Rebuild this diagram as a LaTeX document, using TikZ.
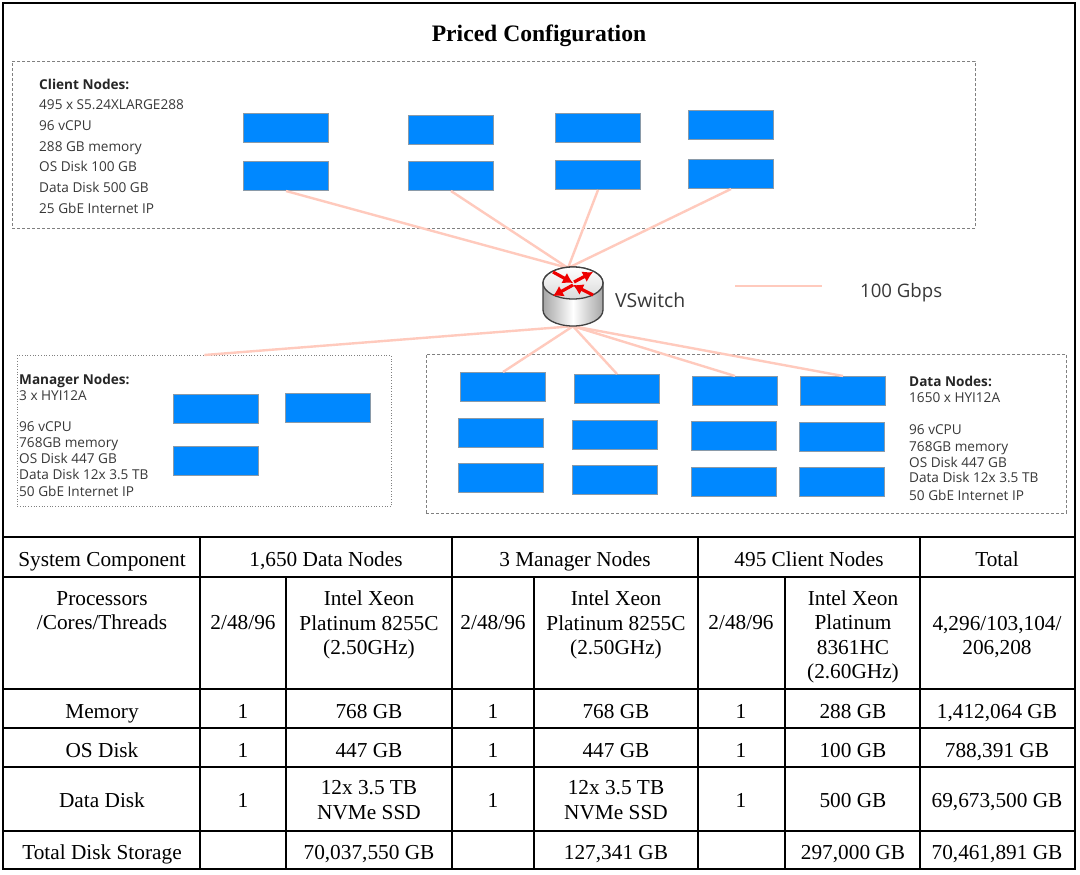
\documentclass[tikz,border=0pt]{standalone}
\usepackage{fontspec}
\setmainfont{Liberation Serif}
\newfontfamily\uifont{Open Sans}
\usetikzlibrary{arrows.meta}
\definecolor{nodeblue}{HTML}{0088FF}
\definecolor{nodeedge}{HTML}{8A9AA8}
\definecolor{linkpink}{HTML}{FFCABD}
\definecolor{uitext}{HTML}{383838}
\definecolor{dashgray}{HTML}{808080}
\definecolor{arrowred}{HTML}{EE0000}
\tikzset{
  srv/.style={draw=nodeedge,line width=1pt,fill=nodeblue,minimum width=85pt,minimum height=29pt,inner sep=0pt,anchor=north west},
  zone/.style={draw=dashgray,line width=.7pt,densely dashed,inner sep=0pt,anchor=north west},
  link/.style={draw=linkpink,line width=2.4pt},
  info/.style={anchor=base west,inner sep=0pt,font=\uifont\fontsize{13.6}{15}\selectfont,text=uitext},
  infohead/.style={info,font=\uifont\bfseries\fontsize{13.6}{15}\selectfont,text=black!85},
  cell/.style={anchor=base,inner sep=0pt,font=\fontsize{21.3}{24.5}\selectfont,text=black},
  multi/.style={anchor=center,inner sep=0pt,align=center,font=\fontsize{21.3}{24.5}\selectfont,text=black},
  rule/.style={line width=2pt,draw=black},
  redarrow/.style={draw=arrowred,line width=3.2pt,-{Latex[length=10pt,width=12pt]}}
}
\begin{document}
\begin{tikzpicture}[x=1pt,y=-1pt]
\useasboundingbox[fill=white] (0,0) rectangle (1080,875);
% table rules
\draw[rule] (3,3) rectangle (1075,869);
\foreach \yy in {537,577,689,728,767,831} \draw[rule] (3,\yy) -- (1075,\yy);
\foreach \xx in {200,452,698,920} \draw[rule] (\xx,537) -- (\xx,869);
\foreach \xx in {286,534,785} \draw[rule] (\xx,577) -- (\xx,869);
% title
\node[cell,font=\bfseries\fontsize{23.6}{26}\selectfont] (title) at (539,42) {Priced Configuration};
% zones
\node[zone,minimum width=963pt,minimum height=167pt] (zclient) at (12,61) {};
\node[zone,dotted,minimum width=374pt,minimum height=151pt] (zmgr) at (17,355) {};
\node[zone,minimum width=640pt,minimum height=159pt] (zdata) at (426,354) {};
% client servers
\node[srv] (c11) at (243,113) {};
\node[srv] (c12) at (408,115) {};
\node[srv] (c13) at (555,113) {};
\node[srv] (c14) at (688,110) {};
\node[srv] (c21) at (243,161) {};
\node[srv] (c22) at (408,161) {};
\node[srv] (c23) at (555,160) {};
\node[srv] (c24) at (688,159) {};
% manager servers
\node[srv] (m11) at (172.5,393.5) {};
\node[srv] (m12) at (284.5,393) {};
\node[srv] (m21) at (172.5,445.5) {};
% data servers
\node[srv] (d11) at (460,372) {};
\node[srv] (d12) at (574,374) {};
\node[srv] (d13) at (692,376) {};
\node[srv] (d14) at (800,376) {};
\node[srv] (d21) at (458,418) {};
\node[srv] (d22) at (572,420) {};
\node[srv] (d23) at (691,421) {};
\node[srv] (d24) at (799,422) {};
\node[srv] (d31) at (458,463) {};
\node[srv] (d32) at (572,465) {};
\node[srv] (d33) at (691,467) {};
\node[srv] (d34) at (799,467) {};
% router anchor node
\node[minimum width=60pt,minimum height=59pt,inner sep=0pt] (router) at (573,296.5) {};
\coordinate (rtop) at (568,268);
% links
\foreach \nn in {c21,c22,c23,c24} \draw[link] (rtop) -- (\nn.south);
\draw[link] (router.south) -- (zmgr.north);
\foreach \nn in {d11,d12,d13,d14} \draw[link] (router.south) -- (\nn.north);
\coordinate (lega) at (735,286);
\coordinate (legb) at (822,286);
\draw[link] (lega) -- (legb);
% router art
\path[draw=black!75,line width=1.3pt,left color=gray!70,right color=gray!70,middle color=white]
  (543,283) -- (543,310) arc[x radius=30pt,y radius=16pt,start angle=180,end angle=360] -- (603,283) arc[x radius=30pt,y radius=16pt,start angle=0,end angle=180] -- cycle;
\path[draw=black!75,line width=1.3pt,top color=white,bottom color=gray!30]
  (573,283) ellipse[x radius=30,y radius=16];
\draw[redarrow] (553,272) -- (573,283);
\draw[redarrow] (574,282) -- (593,272);
\draw[redarrow] (573,285) -- (553,296);
\draw[redarrow] (593,295) -- (573,285);
% texts
\node[info,font=\uifont\fontsize{19.4}{22}\selectfont] (vs) at (615,307) {VSwitch};
\node[info,font=\uifont\fontsize{18.6}{22}\selectfont] (leg) at (860,297) {100 Gbps};
\node[infohead] (ci0) at (39,90) {Client Nodes:};
\node[info] (ci1) at (39,110) {495 x S5.24XLARGE288};
\node[info] (ci2) at (39,131) {96 vCPU};
\node[info] (ci3) at (39,151) {288 GB memory};
\node[info] (ci4) at (39,171) {OS Disk 100 GB};
\node[info] (ci5) at (39,192) {Data Disk 500 GB};
\node[info] (ci6) at (39,213) {25 GbE Internet IP};
\node[infohead] (mi0) at (19,384) {Manager Nodes:};
\node[info] (mi1) at (19,400) {3 x HYI12A};
\node[info] (mi2) at (19,431) {96 vCPU};
\node[info] (mi3) at (19,447) {768GB memory};
\node[info] (mi4) at (19,463) {OS Disk 447 GB};
\node[info] (mi5) at (19,479) {Data Disk 12x 3.5 TB};
\node[info] (mi6) at (19,496) {50 GbE Internet IP};
\node[infohead] (di0) at (909,386) {Data Nodes:};
\node[info] (di1) at (909,402) {1650 x HYI12A};
\node[info] (di2) at (909,434) {96 vCPU};
\node[info] (di3) at (909,451) {768GB memory};
\node[info] (di4) at (909,467) {OS Disk 447 GB};
\node[info] (di5) at (909,482) {Data Disk 12x 3.5 TB};
\node[info] (di6) at (909,500) {50 GbE Internet IP};
% table header
\node[cell] (h1) at (102,566) {System Component};
\node[cell] (h2) at (326,566) {1,650 Data Nodes};
\node[cell] (h3) at (575,566) {3 Manager Nodes};
\node[cell] (h4) at (809,566) {495 Client Nodes};
\node[cell] (h5) at (997,566) {Total};
% processors
\node[multi] (p1) at (102,610.5) {Processors\\/Cores/Threads};
\node[cell] (p2) at (243,629) {2/48/96};
\node[multi] (p3) at (369,625) {Intel Xeon\\Platinum 8255C\\(2.50GHz)};
\node[cell] (p4) at (493,629) {2/48/96};
\node[multi] (p5) at (616,625) {Intel Xeon\\Platinum 8255C\\(2.50GHz)};
\node[cell] (p6) at (741,629) {2/48/96};
\node[multi] (p7) at (853,637) {Intel Xeon\\Platinum\\8361HC\\(2.60GHz)};
\node[multi] (p8) at (997,637) {4,296/103,104/\\206,208};
% memory
\node[cell] (m1) at (102,718) {Memory};
\node[cell] (m2) at (243,718) {1};
\node[cell] (m3) at (369,718) {768 GB};
\node[cell] (m4) at (493,718) {1};
\node[cell] (m5) at (616,718) {768 GB};
\node[cell] (m6) at (741,718) {1};
\node[cell] (m7) at (853,718) {288 GB};
\node[cell] (m8) at (997,718) {1,412,064 GB};
% OS disk
\node[cell] (o1) at (102,757) {OS Disk};
\node[cell] (o2) at (243,757) {1};
\node[cell] (o3) at (369,757) {447 GB};
\node[cell] (o4) at (493,757) {1};
\node[cell] (o5) at (616,757) {447 GB};
\node[cell] (o6) at (741,757) {1};
\node[cell] (o7) at (853,757) {100 GB};
\node[cell] (o8) at (997,757) {788,391 GB};
% data disk
\node[cell] (t1) at (102,807) {Data Disk};
\node[cell] (t2) at (243,807) {1};
\node[multi] (t3) at (369,800) {12x 3.5 TB\\NVMe SSD};
\node[cell] (t4) at (493,807) {1};
\node[multi] (t5) at (616,800) {12x 3.5 TB\\NVMe SSD};
\node[cell] (t6) at (741,807) {1};
\node[cell] (t7) at (853,807) {500 GB};
\node[cell] (t8) at (997,807) {69,673,500 GB};
% total
\node[cell] (s1) at (102,859) {Total Disk Storage};
\node[cell] (s3) at (369,859) {70,037,550 GB};
\node[cell] (s5) at (616,859) {127,341 GB};
\node[cell] (s7) at (853,859) {297,000 GB};
\node[cell] (s8) at (997,859) {70,461,891 GB};
\end{tikzpicture}
\end{document}
